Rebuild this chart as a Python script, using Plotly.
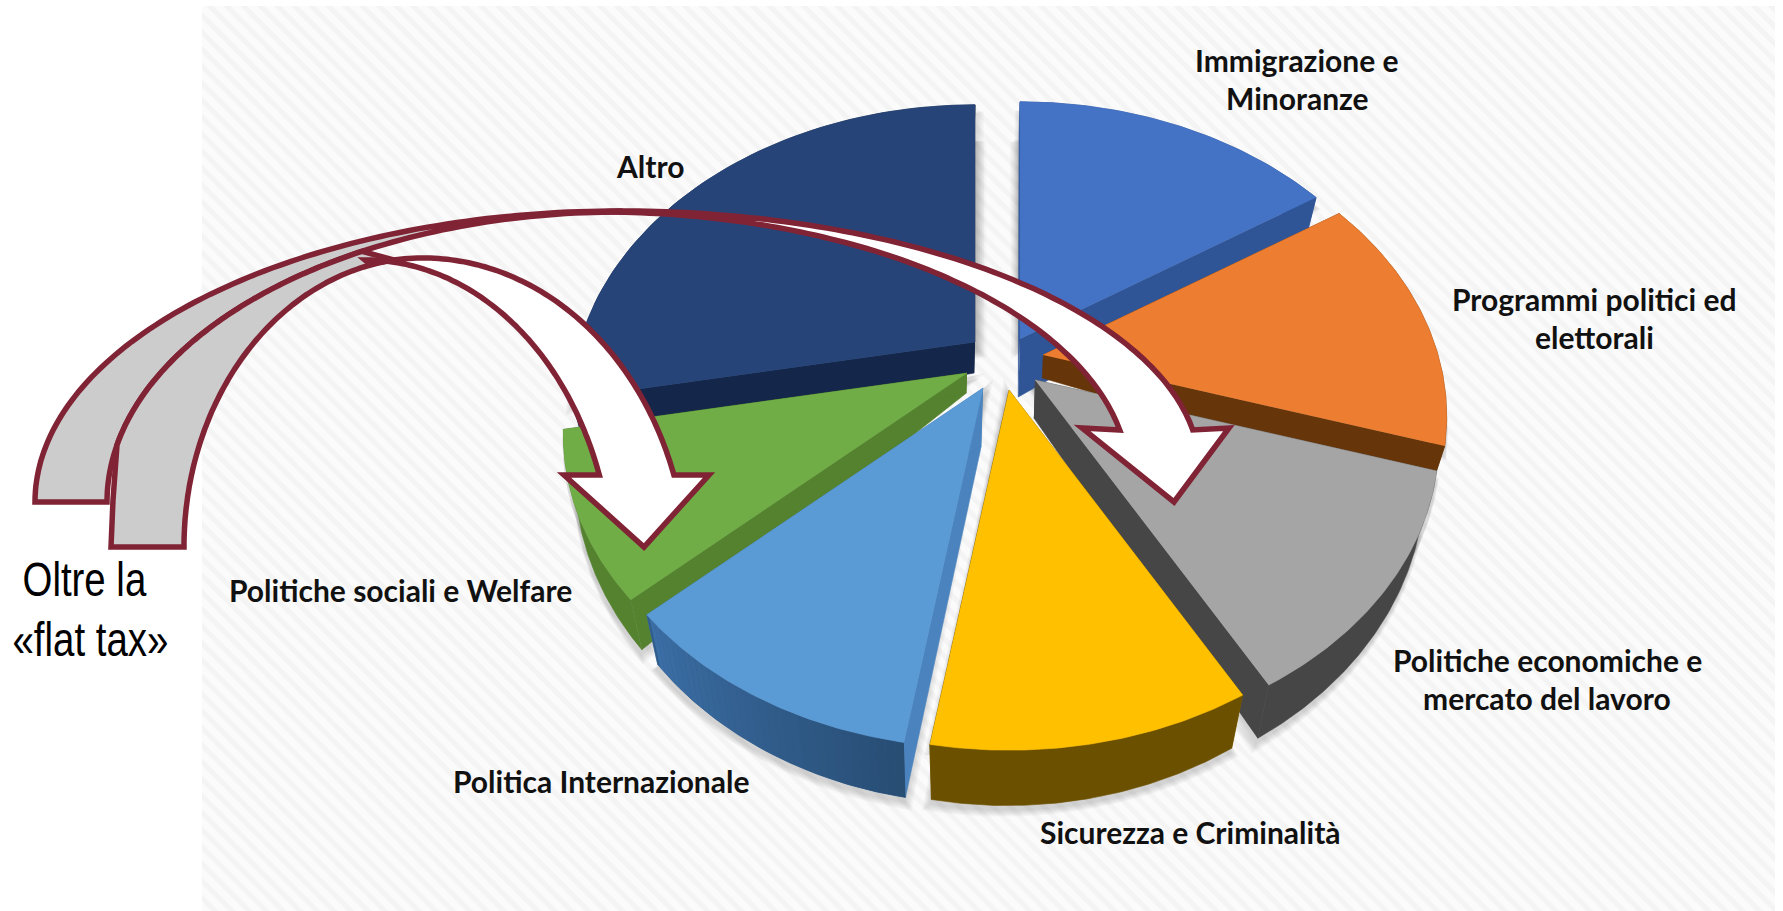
import numpy as np
import plotly.graph_objects as go

# ---------- data ----------
categories = ["Immigrazione e Minoranze", "Programmi politici ed elettorali",
              "Politiche economiche e mercato del lavoro", "Sicurezza e Criminalità",
              "Politica Internazionale", "Politiche sociali e Welfare", "Altro"]
values = [15.7, 14.1, 12.1, 10.6, 10.5, 8.9, 28.0]

# ---------- style / projection ----------
top_colors = ["#4472C4", "#ED7D31", "#A5A5A5", "#FFC000", "#5B9BD5", "#70AD47", "#264478"]
side_colors = ["#2F5597", "#663509", "#464646", "#7F6000", "#4A83BD", "#54822F", "#14274A"]
arc_colors = ["#2F5597", "#663509", "#464646", "#6B5000", "#2F5C8A", "#54822F", "#14274A"]
pull_x = [20, 43, 35, 9, -17, -33, -25]
pull_y = [-26, -10, 15, 25, 23, 8, -23]
core_depth = [58, 23, 38, 40, 58, 20, 31]
draw_order = [6, 0, 1, 2, 5, 4, 3]
CX, CY, RX, RY, PERSP = 1000, 365, 395, 286, 0.206

fig = go.Figure()

# hatched picture background
fig.add_trace(go.Bar(x=[988.5], width=[1573], y=[905], base=[6], hoverinfo="skip", showlegend=False,
                     marker=dict(color="#FAFAFA", line_width=0,
                                 pattern=dict(shape="\\", fgcolor="#EDEDED", bgcolor="#FBFBFB",
                                              size=12, solidity=0.45))))


def project(theta):
    x, y = np.sin(theta), -np.cos(theta)
    s = 1 / (1 - PERSP * y)
    return RX * x * s, RY * y * s, s


def drop(px, s, base=None):
    d = 41 * s ** 1.3 if base is None else base
    return px - (px + CX - 960) * 0.041 * d / 55, d


def poly(xs, ys, color, width=0.6):
    fig.add_trace(go.Scatter(x=list(xs), y=list(ys), mode="lines", fill="toself", fillcolor=color,
                             line=dict(color=color, width=width), hoverinfo="skip", showlegend=False))


edges = np.concatenate([[0], np.cumsum(values)]) / np.sum(values) * 2 * np.pi
slices = []
for i in range(len(values)):
    th = np.linspace(edges[i], edges[i + 1], 70)
    ax, ay, s = project(th)
    bx, d = drop(ax, s)
    ox, oy = CX + pull_x[i], CY + pull_y[i]
    cbx, cd = drop(0.0, 1.0, core_depth[i])
    slices.append(dict(ax=ax + ox, ay=ay + oy, bx=bx + ox, by=ay + d + oy,
                       ox=ox, oy=oy, cbx=cbx + ox, cby=oy + cd))

# soft drop shadow
for k in range(1, 7):
    for sl in slices:
        xs = np.concatenate([[sl["ox"]], sl["bx"]])
        ys = np.concatenate([[sl["oy"]], sl["by"]])
        mx, my = xs.mean(), ys.mean()
        f = 1 + k * 0.009
        poly(mx + (xs - mx) * f - 1, my + (ys - my) * f + 4 + k, "rgba(60,60,60,0.035)", 0)
    for sl in slices:
        xs = np.concatenate([[sl["ox"]], sl["ax"]])
        ys = np.concatenate([[sl["oy"]], sl["ay"]])
        mx, my = xs.mean(), ys.mean()
        f = 1 + k * 0.006
        poly(mx + (xs - mx) * f, my + (ys - my) * f + 10, "rgba(60,60,60,0.03)", 0)

# solid slices, back to front
for i in draw_order:
    sl = slices[i]
    # radial walls
    poly([sl["ox"], sl["ax"][0], sl["bx"][0], sl["cbx"]],
         [sl["oy"], sl["ay"][0], sl["by"][0], sl["cby"]], side_colors[i])
    poly([sl["ox"], sl["ax"][-1], sl["bx"][-1], sl["cbx"]],
         [sl["oy"], sl["ay"][-1], sl["by"][-1], sl["cby"]], side_colors[i])
    # outer wall (the Internazionale slice carries a left-to-right shade)
    if i == 4:
        poly(np.concatenate([sl["ax"], sl["bx"][::-1]]),
             np.concatenate([sl["ay"], sl["by"][::-1]]), arc_colors[i])
        n = 34
        for j in range(n):
            a, b = j * 2, j * 2 + 3
            t = j / (n - 1)
            col = "rgb(%d,%d,%d)" % (40 + 20 * t, 78 + 32 * t, 116 + 50 * t)
            poly(np.concatenate([sl["ax"][a:b], sl["bx"][a:b][::-1]]),
                 np.concatenate([sl["ay"][a:b], sl["by"][a:b][::-1]]), col, 0)
    else:
        poly(np.concatenate([sl["ax"], sl["bx"][::-1]]),
             np.concatenate([sl["ay"], sl["by"][::-1]]), arc_colors[i])
    # top face
    poly(np.concatenate([[sl["ox"]], sl["ax"]]), np.concatenate([[sl["oy"]], sl["ay"]]), top_colors[i])


# ---------- the two curved call-out arrows (elliptical bands) ----------
def arc(cx, cy, rx, ry, t0, t1, n=90):
    t = np.linspace(t0, t1, n)
    return list(zip(cx + rx * np.cos(t), cy - ry * np.sin(t)))


def t_at(cy, ry, y):
    return np.arcsin((cy - y) / ry)


def outline(parts, fill):
    pts = []
    for part in parts:
        pts += part
    d = "M " + " L ".join(f"{x:.1f},{y:.1f}" for x, y in pts) + " Z"
    fig.add_shape(type="path", path=d, fillcolor=fill, layer="above",
                  line=dict(color="#7F2335", width=5.5))


HALF = np.pi / 2
# grey back of the long arrow
outline([arc(620, 502, 585, 291, np.pi, HALF), arc(620, 502, 513, 290, HALF, np.pi)], "#CCCCCC")
# grey back of the short arrow
outline([[(111, 547), (113, 500)],
         arc(620, 502, 513, 290, np.pi - t_at(502, 290, 445), np.arccos((362 - 620) / 513)),
         arc(423, 547, 239, 289, HALF + 0.12, np.pi)], "#CCCCCC")
# white front of the short arrow
outline([arc(423, 578, 265, 320, HALF + 0.2, t_at(578, 320, 475)),
         [(709, 475), (644, 547), (564, 475)],
         arc(365, 580, 248, 320, t_at(580, 320, 475), HALF)], "#FFFFFF")
# white front of the long arrow
outline([arc(620, 471, 580, 260, HALF, t_at(471, 260, 430)),
         [(1229, 428), (1174, 502), (1082, 428)],
         arc(600, 480, 529, 268, t_at(480, 268, 430), HALF)], "#FFFFFF")

# ---------- texts ----------
labels = [("Immigrazione e", 1297, 60), ("Minoranze", 1297, 98),
          ("Programmi politici ed", 1594, 299), ("elettorali", 1594, 337),
          ("Politiche economiche e", 1547, 660), ("mercato del lavoro", 1547, 698),
          ("Sicurezza e Criminalità", 1190, 832), ("Politica Internazionale", 601, 781),
          ("Politiche sociali e Welfare", 400, 590), ("Altro", 650, 166)]
for text, x, y in labels:
    fig.add_annotation(x=x, y=y, text=f"<b>{text}</b>", showarrow=False, xanchor="center", yanchor="middle",
                       font=dict(family="Lato, Carlito, sans-serif", size=30, color="#111111"))
for text, x, y in [("Oltre la", 84, 579), ("«flat tax»", 90, 639)]:
    fig.add_annotation(x=x, y=y, text=text, showarrow=False, xanchor="center", yanchor="middle",
                       font=dict(family="Liberation Sans, sans-serif", size=48, color="#000000"))

fig.update_layout(width=1783, height=911, autosize=False, margin=dict(l=0, r=0, t=0, b=0, pad=0),
                  paper_bgcolor="#FFFFFF", plot_bgcolor="rgba(0,0,0,0)", showlegend=False,
                  xaxis=dict(range=[0, 1783], visible=False, fixedrange=True),
                  yaxis=dict(range=[911, 0], visible=False, fixedrange=True))

narrow = """
document.body.style.margin='0';document.documentElement.style.overflow='hidden';
document.querySelectorAll('text.annotation-text').forEach(function(t){
  if(/Oltre|flat/.test(t.textContent)){
    var b=t.getBBox(), c=b.x+b.width/2;
    t.setAttribute('transform','translate('+c+',0) scale(0.8,1) translate('+(-c)+',0)');
  }
});
"""
fig.write_html("out.html", config={"displayModeBar": False}, post_script=narrow)
